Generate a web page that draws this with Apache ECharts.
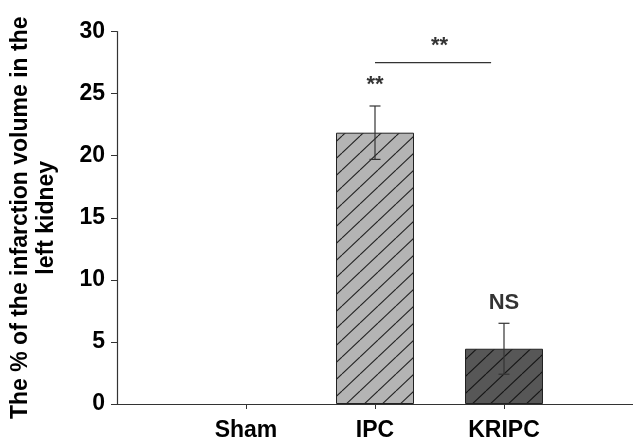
<!DOCTYPE html>
<html>
<head>
<meta charset="utf-8">
<script src="https://cdn.jsdelivr.net/npm/echarts@6/dist/echarts.min.js"></script>
<style>html,body{margin:0;padding:0;background:#fff;}#c{width:633px;height:443px;}</style>
</head>
<body>
<div id="c"></div>
<script>
// Data
const categories = ['Sham', 'IPC', 'KRIPC'];
const categoryPos = [1, 2, 3];
const means = [0, 21.85, 4.45];
const errors = [0, 2.15, 2.05];
const yTicks = [0, 5, 10, 15, 20, 25, 30];
const sigLabels = [[2, 25.7, '**'], [3, 8.1, 'NS'], [2.5, 28.8, '**']];
const bracket = [[2, 27.5], [2.9, 27.5]];

function hatch(bg, line, w, h) {
  const c = document.createElement('canvas');
  c.width = w; c.height = h;
  const g = c.getContext('2d');
  g.fillStyle = bg; g.fillRect(0, 0, w, h);
  g.strokeStyle = line; g.lineWidth = 1.1;
  for (let k = -1; k <= 1; k++) {
    g.beginPath();
    g.moveTo(k * w, h);
    g.lineTo(k * w + w, 0);
    g.stroke();
  }
  return { image: c, repeat: 'repeat' };
}
const fills = ['#ffffff', hatch('#b4b4b4', '#222222', 18, 17), hatch('#575757', '#151515', 18, 17)];

const chart = echarts.init(document.getElementById('c'), null, { renderer: 'canvas' });
const font = 'Arial, "Liberation Sans", sans-serif';
chart.setOption({
  animation: false,
  grid: { left: 117, right: -2, top: 31.5, bottom: 39, containLabel: false },
  xAxis: {
    type: 'value', min: 0, max: 4, interval: 1,
    axisLine: { show: true, onZero: false, lineStyle: { color: '#333', width: 1.2 } },
    axisTick: { show: true, length: 5, customValues: categoryPos, lineStyle: { color: '#333' } },
    axisLabel: { customValues: categoryPos, margin: 15, fontSize: 23, fontWeight: 'bold', color: '#000', fontFamily: font,
      formatter: (v) => { const i = categoryPos.indexOf(v); return i >= 0 ? categories[i] : ''; } },
    splitLine: { show: false }
  },
  yAxis: {
    type: 'value', min: 0, max: 30, interval: 5,
    name: 'The % of the infarction volume in the\nleft kidney',
    nameLocation: 'middle', nameRotate: 90, nameGap: 57,
    nameTextStyle: { fontSize: 23, fontWeight: 'bold', color: '#000', fontFamily: font, lineHeight: 26, align: 'center' },
    axisLine: { show: true, lineStyle: { color: '#333', width: 1.2 } },
    axisTick: { show: true, length: 6, lineStyle: { color: '#333' } },
    axisLabel: { margin: 12, fontSize: 23, fontWeight: 'bold', color: '#000', fontFamily: font, formatter: (v) => yTicks.includes(v) ? String(v) : '' },
    splitLine: { show: false }
  },
  series: [
    {
      type: 'bar', barWidth: 78,
      data: means.map((v, i) => ({ value: [categoryPos[i], v], itemStyle: { color: fills[i], borderWidth: v > 0 ? 1 : 0 } })),
      itemStyle: { borderColor: '#222', borderWidth: 1 }
    },
    {
      type: 'custom',
      data: means.map((v, i) => [categoryPos[i], v, errors[i]]).filter(d => d[2] > 0),
      renderItem: function (params, api) {
        const x = api.value(0), m = api.value(1), e = api.value(2);
        const top = api.coord([x, m + e]);
        const bot = api.coord([x, m - e]);
        const cap = 5.5;
        const st = { stroke: '#333', lineWidth: 1.2 };
        return { type: 'group', children: [
          { type: 'line', shape: { x1: top[0], y1: top[1], x2: bot[0], y2: bot[1] }, style: st },
          { type: 'line', shape: { x1: top[0] - cap, y1: top[1], x2: top[0] + cap, y2: top[1] }, style: st },
          { type: 'line', shape: { x1: bot[0] - cap, y1: bot[1], x2: bot[0] + cap, y2: bot[1] }, style: st }
        ] };
      },
      z: 5
    },
    {
      type: 'line',
      data: bracket,
      symbol: 'none',
      lineStyle: { color: '#333', width: 1.2 },
      z: 5
    },
    {
      type: 'scatter',
      data: sigLabels.map(d => ({ value: [d[0], d[1]], label: { formatter: d[2] } })),
      symbolSize: 0,
      label: { show: true, position: 'inside', fontSize: 22, fontWeight: 'bold', color: '#000', fontFamily: font },
      z: 6
    }
  ]
});
</script>
</body>
</html>
